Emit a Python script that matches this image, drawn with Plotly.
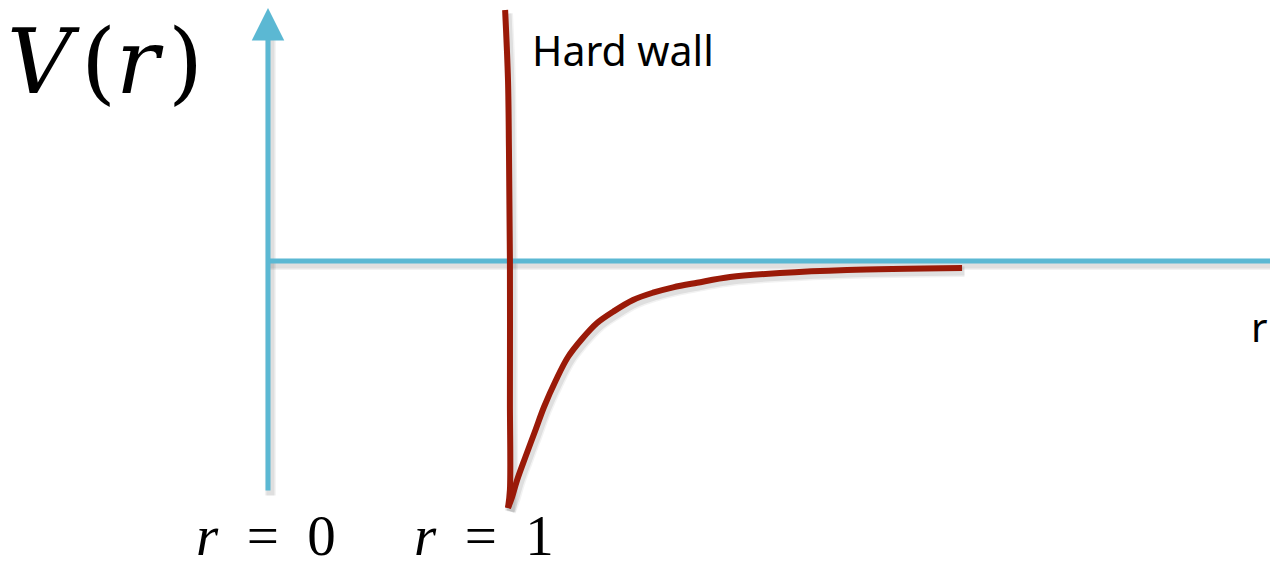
import plotly.graph_objects as go

# Potential curve V(r) (r in units where hard wall is at r = 1)
wall_r = [0.988, 1.000, 1.004, 1.008, 1.008, 1.008, 1.000]
wall_V = [2.51, 1.81, 1.11, 0.01, -1.39, -2.29, -2.47]
well_r = [1.000, 1.017, 1.038, 1.071, 1.113, 1.150, 1.200, 1.250, 1.308, 1.371, 1.438,
          1.521, 1.604, 1.688, 1.788, 1.925, 2.133, 2.413, 2.892]
well_V = [-2.47, -2.36, -2.19, -1.97, -1.70, -1.46, -1.19, -0.96, -0.78, -0.62, -0.507,
          -0.39, -0.317, -0.263, -0.217, -0.16, -0.12, -0.09, -0.07]

# Axis lines (r axis and V axis)
raxis_r = [0.0, 4.2]
raxis_V = [0.0, 0.0]
vaxis_bottom = -2.31
vaxis_top = 2.53

labels = {
    "V(r)": (-0.68, 2.0),
    "Hard wall": (1.09, 2.11),
    "r": (4.133, -0.65),
    "r = 0": (-0.01, -3.08),
    "r = 1": (0.90, -3.08),
}

CYAN = "#5BB8D3"
RED = "#9A1A08"
SH = 0.035  # shadow offset

fig = go.Figure()

SPL = dict(shape="spline", smoothing=1.0)
curves = [(wall_r, wall_V), (well_r, well_V)]

# soft shadows
for w, a in [(11, 0.05), (8, 0.08)]:
    shadow = dict(color=f"rgba(0,0,0,{a})", width=w)
    fig.add_trace(go.Scatter(x=raxis_r, y=[v - SH for v in raxis_V], mode="lines",
                             line=shadow, hoverinfo="skip"))
    for cr, cv in curves:
        fig.add_trace(go.Scatter(x=[r + 0.01 for r in cr], y=[v - SH for v in cv], mode="lines",
                                 line=dict(**shadow, **SPL), hoverinfo="skip"))
    fig.add_trace(go.Scatter(x=[0.01, 0.01], y=[vaxis_bottom - SH, vaxis_top - 0.2], mode="lines",
                             line=shadow, hoverinfo="skip"))

fig.add_trace(go.Scatter(x=raxis_r, y=raxis_V, mode="lines",
                         line=dict(color=CYAN, width=5), hoverinfo="skip"))
for cr, cv in curves:
    fig.add_trace(go.Scatter(x=cr, y=cv, mode="lines",
                             line=dict(color=RED, width=6, **SPL), hoverinfo="skip"))

fig.add_annotation(x=0, y=vaxis_top, ax=0, ay=vaxis_bottom, xref="x", yref="y",
                   axref="x", ayref="y", showarrow=True, arrowhead=2, arrowsize=1.3,
                   arrowwidth=5, arrowcolor=CYAN, text="")

fig.add_annotation(x=labels["V(r)"][0], y=labels["V(r)"][1],
                   text="<i>V</i>&#8202;(<i>r</i>&#8202;)",
                   showarrow=False, font=dict(family="DejaVu Serif", size=90, color="black"))
for key in ["r = 0", "r = 1"]:
    digit = key[-1]
    fig.add_annotation(x=labels[key][0], y=labels[key][1], yanchor="bottom",
                       text=f"<i>r</i>&nbsp;&nbsp;=&nbsp;&nbsp;{digit}",
                       showarrow=False, font=dict(family="Liberation Serif", size=57, color="black"))
fig.add_annotation(x=labels["Hard wall"][0], y=labels["Hard wall"][1], text="Hard wall",
                   showarrow=False, xanchor="left", font=dict(family="Noto Sans", size=41, color="black"))
fig.add_annotation(x=labels["r"][0], y=labels["r"][1], text="r",
                   showarrow=False, font=dict(family="Noto Sans", size=40, color="black"))

fig.update_layout(
    width=1270, height=570, margin=dict(l=0, r=0, t=0, b=0),
    paper_bgcolor="white", plot_bgcolor="white", showlegend=False,
    xaxis=dict(range=[-268 / 240, (1270 - 268) / 240], visible=False, fixedrange=True),
    yaxis=dict(range=[-3.09, 2.61], visible=False, fixedrange=True),
)

fig.write_html("out.html", config={"displayModeBar": False},
               post_script="document.body.style.margin='0';")
